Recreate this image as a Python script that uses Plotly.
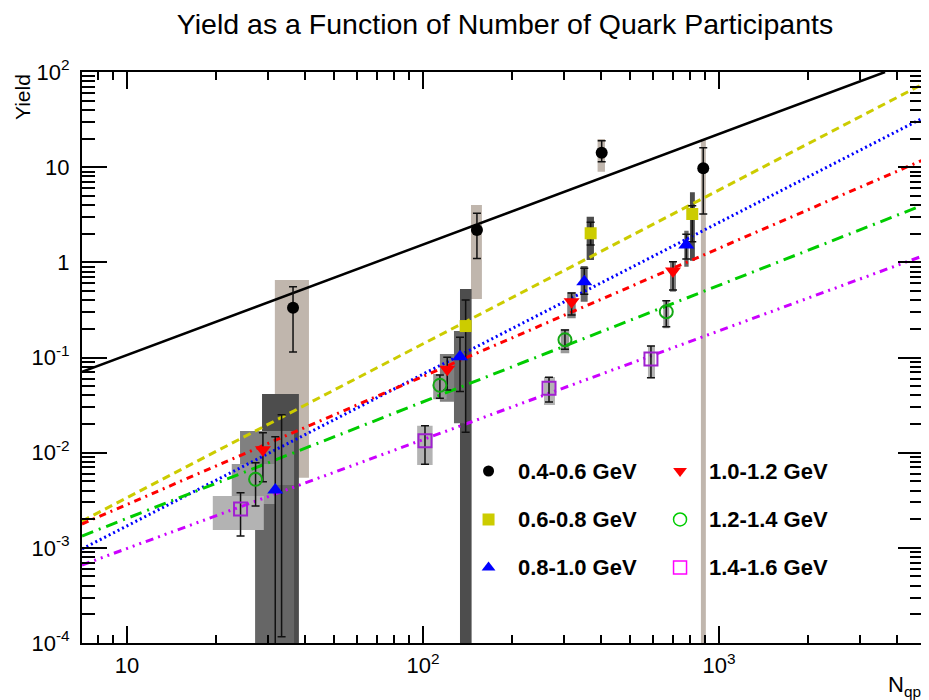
import plotly.graph_objects as go
import math

# ---------------- data ----------------
labels = ["0.4-0.6 GeV", "0.6-0.8 GeV", "0.8-1.0 GeV",
          "1.0-1.2 GeV", "1.2-1.4 GeV", "1.4-1.6 GeV"]

# 0.4-0.6 GeV
nqp_a = [36.4, 152.2, 401.6, 885.0]
yld_a = [0.334, 2.19, 14.2, 9.73]
shi_a = [0.555, 3.28, 19.0, 16.0]
slo_a = [0.114, 1.10, 11.4, 3.22]
bxl_a = [31.6, 145.3, 389.0, 869.0]
bxh_a = [41.2, 158.2, 412.0, 903.0]
byl_a = [5.46e-3, 0.412, 8.96, 1e-5]
byh_a = [0.652, 4.0, 19.8, 19.8]

# 0.6-0.8 GeV
nqp_b = [33.3, 139.4, 368.6, 812.5]
yld_b = [1.7e-3, 0.214, 2.02, 3.22]
shi_b = [0.0251, 0.402, 2.63, 3.94]
slo_b = [1.16e-4, 0.0164, 1.52, 1.65]
bxl_b = [28.6, 133.4, 357.3, 798.0]
bxh_b = [38.1, 146.0, 378.2, 829.0]
byl_b = [1e-5, 1e-5, 1.058, 1.04]
byh_b = [0.0414, 0.525, 3.02, 5.45]

# 0.8-1.0 GeV
nqp_c = [31.7, 133.4, 350.8, 775.5]
yld_c = [4.06e-3, 0.102, 0.626, 1.52]
shi_c = [0.0147, 0.163, 0.866, 1.97]
slo_c = [1e-5, 0.0438, 0.461, 1.084]
bxl_c = [27.1, 127.3, 341.1, 763.5]
bxh_c = [36.7, 139.4, 360.1, 789.9]
byl_c = [1e-5, 0.0204, 0.386, 0.90]
byh_c = [0.009, 0.19, 0.915, 2.15]

# 1.0-1.2 GeV
nqp_d = [28.8, 120.8, 317.9, 699.4]
yld_d = [0.0107, 0.0752, 0.386, 0.811]
shi_d = [0.0162, 0.1005, 0.476, 1.016]
slo_d = [4.95e-3, 0.0456, 0.280, 0.512]
bxl_d = [24.1, 114.1, 307.2, 683.2]
bxh_d = [36.7, 127.5, 328.1, 715.7]
byl_d = [4.57e-3, 0.0343, 0.258, 0.491]
byh_d = [0.0169, 0.1089, 0.484, 1.016]

# 1.2-1.4 GeV
nqp_e = [27.2, 114.1, 301.8, 663.8]
yld_e = [5.25e-3, 0.0511, 0.1538, 0.303]
shi_e = [7.85e-3, 0.0655, 0.1945, 0.395]
slo_e = [2.75e-3, 0.0372, 0.1219, 0.211]
bxl_e = [22.6, 108.3, 291.9, 648.4]
bxh_e = [31.6, 120.2, 312.1, 679.2]
byl_e = [2.89e-3, 0.0364, 0.1107, 0.2028]
byh_e = [7.6e-3, 0.0672, 0.1993, 0.402]

# 1.4-1.6 GeV
nqp_f = [24.2, 101.6, 266.6, 589.2]
yld_f = [2.56e-3, 0.01336, 0.0475, 0.0965]
shi_f = [3.79e-3, 0.0192, 0.0619, 0.1321]
slo_f = [1.33e-3, 7.55e-3, 0.0341, 0.0614]
bxl_f = [19.5, 95.6, 256.4, 575.5]
bxh_f = [29.0, 107.8, 279.2, 607.8]
byl_f = [1.54e-3, 7.43e-3, 0.0317, 0.0605]
byh_f = [3.51e-3, 0.0192, 0.0624, 0.133]

# power-law fit lines (end points)
fitx_a = [7.05, 3640.0]
fity_a = [0.0706, 100.0]
fitx = [7.05, 4890.0]
fity_b = [1.91e-3, 74.8]
fity_c = [9.73e-4, 32.9]
fity_d = [1.78e-3, 11.9]
fity_e = [1.33e-3, 4.0]
fity_f = [6.6e-4, 1.17]

# ---------------- styles ----------------
FONT = "Liberation Sans, Arial, sans-serif"
series = [
    dict(x=nqp_a, y=yld_a, hi=shi_a, lo=slo_a, bxl=bxl_a, bxh=bxh_a, byl=byl_a, byh=byh_a,
         fx=fitx_a, fy=fity_a, box="#c0b6ad", sym="circle", mcol="#000000", lcol="#000000",
         dash="solid", size=12, lw=0, open=False, leg="#000000", lsize=11),
    dict(x=nqp_b, y=yld_b, hi=shi_b, lo=slo_b, bxl=bxl_b, bxh=bxh_b, byl=byl_b, byh=byh_b,
         fx=fitx, fy=fity_b, box="#4d4d4d", sym="square", mcol="#cccc00", lcol="#cccc00",
         dash="8px,5px", size=12, lw=0, open=False, leg="#cccc00", lsize=12),
    dict(x=nqp_c, y=yld_c, hi=shi_c, lo=slo_c, bxl=bxl_c, bxh=bxh_c, byl=byl_c, byh=byh_c,
         fx=fitx, fy=fity_c, box="#666666", sym="triangle-up", mcol="#0000ff", lcol="#0000ff",
         dash="2px,3px", size=14, lw=0, open=False, leg="#0000ff", lsize=12),
    dict(x=nqp_d, y=yld_d, hi=shi_d, lo=slo_d, bxl=bxl_d, bxh=bxh_d, byl=byl_d, byh=byh_d,
         fx=fitx, fy=fity_d, box="#808080", sym="triangle-down", mcol="#ff0000", lcol="#ff0000",
         dash="7px,5px,2px,5px", size=14, lw=0, open=False, leg="#ff0000", lsize=12),
    dict(x=nqp_e, y=yld_e, hi=shi_e, lo=slo_e, bxl=bxl_e, bxh=bxh_e, byl=byl_e, byh=byh_e,
         fx=fitx, fy=fity_e, box="#999999", sym="circle-open", mcol="#14a814", lcol="#00cc00",
         dash="12px,6px,2px,6px", size=13, lw=2, open=True, leg="#00cc00", lsize=13),
    dict(x=nqp_f, y=yld_f, hi=shi_f, lo=slo_f, bxl=bxl_f, bxh=bxh_f, byl=byl_f, byh=byh_f,
         fx=fitx, fy=fity_f, box="#b3b3b3", sym="square-open", mcol="#a020d0", lcol="#cc00ff",
         dash="8px,5px,2px,5px,2px,5px,2px,5px", size=13, lw=2, open=True, leg="#ff00ff", lsize=13),
]
# marker visibility of each point (the first 0.6-0.8 point is covered in the reference)
vis_b = [0.0, 1.0, 1.0, 1.0]

fig = go.Figure()

# systematic boxes
for s in series:
    xs, ys = [], []
    for a, b, c, d in zip(s["bxl"], s["bxh"], s["byl"], s["byh"]):
        xs += [a, b, b, a, a, None]
        ys += [c, c, d, d, c, None]
    fig.add_trace(go.Scatter(x=xs, y=ys, mode="lines", fill="toself", fillcolor=s["box"],
                             line=dict(width=0), hoverinfo="skip", showlegend=False))

# fit lines
for s in series:
    fig.add_trace(go.Scatter(x=s["fx"], y=s["fy"], mode="lines",
                             line=dict(color=s["lcol"], width=3 if s["dash"] != "solid" else 2.5,
                                       dash=s["dash"]),
                             hoverinfo="skip", showlegend=False))

# data points with statistical error bars
for i, s in enumerate(series):
    op = vis_b if i == 1 else [1.0] * len(s["x"])
    fig.add_trace(go.Scatter(
        x=s["x"], y=s["y"], mode="markers",
        marker=dict(symbol=s["sym"], size=s["size"], color=s["mcol"], opacity=op,
                    line=dict(width=s["lw"], color=s["mcol"])),
        error_y=dict(type="data", symmetric=False,
                     array=[h - v for h, v in zip(s["hi"], s["y"])],
                     arrayminus=[v - l for v, l in zip(s["y"], s["lo"])],
                     color="#111111", thickness=1.5, width=4),
        showlegend=False))

# legend (drawn on an overlay axis in plot-fraction coordinates)
leg_x = [0.4834, 0.4834, 0.4834, 0.7111, 0.7111, 0.7111]
leg_y = [0.3012, 0.2163, 0.1322, 0.3012, 0.2163, 0.1322]
txt_x = [0.5161, 0.5161, 0.5161, 0.7432, 0.7432, 0.7432]
for i, s in enumerate(series):
    fig.add_trace(go.Scatter(
        x=[leg_x[i]], y=[leg_y[i]], mode="markers", xaxis="x2", yaxis="y2",
        marker=dict(symbol=s["sym"], size=s["lsize"], color=s["leg"],
                    line=dict(width=1.5 if s["open"] else 0, color=s["leg"])),
        hoverinfo="skip", showlegend=False))
    fig.add_annotation(x=txt_x[i], y=leg_y[i], xref="paper", yref="paper",
                       text="<b>%s</b>" % labels[i], showarrow=False,
                       xanchor="left", yanchor="middle",
                       font=dict(family=FONT, size=22, color="black"))

# axes
xminor = [m * 10 ** k for k in range(0, 4) for m in range(2, 10)]
yminor = [m * 10.0 ** k for k in range(-4, 2) for m in range(2, 10)]
fig.update_layout(
    width=929, height=700,
    # the page body adds an 8px offset, so the frame is placed 8px up/left
    margin=dict(l=74, r=14, t=64, b=65, autoexpand=False),
    paper_bgcolor="white", plot_bgcolor="white",
    font=dict(family=FONT, color="black"),
    showlegend=False,
    title=dict(text="Yield as a Function of Number of Quark Participants",
               x=0.535, xanchor="center", y=0.977, yanchor="middle",
               font=dict(family=FONT, size=28.5, color="black"), automargin=False),
    xaxis=dict(type="log", range=[math.log10(7.05), math.log10(4890)],
               tickvals=[10, 100, 1000], ticktext=["10", "10<sup>2</sup>", "10<sup>3</sup>"],
               ticks="inside", ticklen=17, tickwidth=1.5, tickcolor="black",
               minor=dict(ticks="inside", ticklen=8, tickwidth=1.5, tickcolor="black",
                          tickvals=xminor, showgrid=False),
               showline=True, linewidth=2, linecolor="black", mirror="allticks",
               showgrid=False, zeroline=False, tickfont=dict(size=22),
               ticklabelstandoff=2, automargin=False),
    yaxis=dict(type="log", range=[-4, 2],
               tickvals=[1e-4, 1e-3, 1e-2, 1e-1, 1, 10, 100],
               ticktext=["10<sup>-4</sup>", "10<sup>-3</sup>", "10<sup>-2</sup>",
                         "10<sup>-1</sup>", "1", "10", "10<sup>2</sup>"],
               ticks="inside", ticklen=25, tickwidth=1.5, tickcolor="black",
               minor=dict(ticks="inside", ticklen=13, tickwidth=1.5, tickcolor="black",
                          tickvals=yminor, showgrid=False),
               showline=True, linewidth=2, linecolor="black", mirror="allticks",
               showgrid=False, zeroline=False, tickfont=dict(size=22),
               ticklabelstandoff=6, automargin=False),
    xaxis2=dict(overlaying="x", range=[0, 1], visible=False, anchor="y2", automargin=False),
    yaxis2=dict(overlaying="y", range=[0, 1], visible=False, anchor="x2", automargin=False),
)

# axis titles
fig.add_annotation(text="Yield", textangle=-90, x=-0.0713, y=1.0, xref="paper", yref="paper",
                   xanchor="center", yanchor="top", showarrow=False,
                   font=dict(family=FONT, size=21, color="black"))
fig.add_annotation(text="N<sub>qp</sub>", x=1.0, y=-0.075, xref="paper", yref="paper",
                   xanchor="right", yanchor="middle", showarrow=False,
                   font=dict(family=FONT, size=22, color="black"))

fig.write_html("out.html")
